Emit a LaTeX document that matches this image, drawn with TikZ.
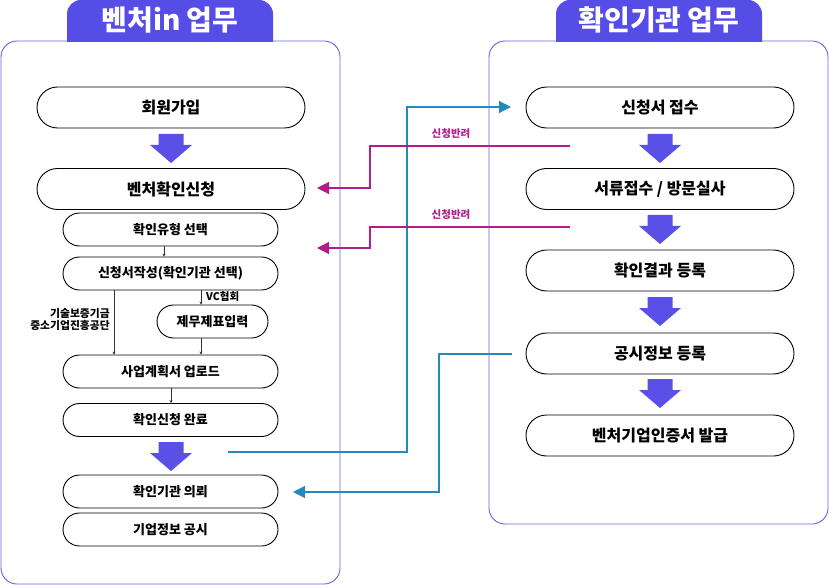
\documentclass[tikz,border=0pt]{standalone}
\usepackage{fontspec}
\setmainfont{Noto Sans CJK KR}
\usetikzlibrary{arrows.meta}
\definecolor{hdr}{HTML}{564CE6}
\definecolor{pborder}{HTML}{6A60EE}
\definecolor{bigarr}{HTML}{5A50E8}
\definecolor{rej}{HTML}{B01E8E}
\definecolor{flow}{HTML}{2389C0}
\tikzset{
  bigbox/.style={draw=black, line width=0.9pt, rounded corners=20.5pt, minimum width=268pt, minimum height=41pt, inner sep=0pt, font=\fontsize{16}{18}\selectfont\bfseries},
  smallbox/.style={draw=black, line width=0.9pt, rounded corners=16.5pt, minimum width=215pt, minimum height=33pt, inner sep=0pt, font=\fontsize{13}{15}\selectfont\bfseries},
  panel/.style={draw=pborder, line width=0.9pt, rounded corners=16pt},
  tab/.style={fill=hdr},
  hdrtext/.style={text=white, font=\fontsize{28}{30}\selectfont\bfseries},
  bigarrow/.style={fill=bigarr},
  thin/.style={-{Stealth[length=3pt,width=3pt]}, line width=0.5pt, draw=black!80},
  rejline/.style={draw=rej, line width=1.2pt, -{Triangle[length=12pt,width=12pt]}},
  flowline/.style={draw=flow, line width=1.2pt, -{Triangle[length=12pt,width=12pt]}},
  lbl/.style={font=\fontsize{10.5}{12}\selectfont\bfseries, inner sep=0pt},
}
\newcommand{\bigdown}[2]{\fill[bigarr] (#1-12.5,#2) -- (#1+12.5,#2) -- (#1+12.5,#2+11) -- (#1+21,#2+11) -- (#1,#2+29) -- (#1-21,#2+11) -- (#1-12.5,#2+11) -- cycle;}
\begin{document}
\begin{tikzpicture}[x=1pt,y=-1pt]
\useasboundingbox (0,0) rectangle (829,585);
% panels
\draw[panel] (1,41) rectangle (340,584);
\draw[panel] (489,41) rectangle (828,524);
% tabs
\fill[tab] (67,42) [rounded corners=14pt] -- (67,0) -- (273,0) [sharp corners] -- (273,42) -- cycle;
\fill[tab] (556,42) [rounded corners=14pt] -- (556,0) -- (762,0) [sharp corners] -- (762,42) -- cycle;
\node[hdrtext] (h1) at (170,20) {벤처in 업무};
\node[hdrtext] (h2) at (659,20) {확인기관 업무};
% left boxes
\node[bigbox] (b1) at (171,107.5) {회원가입};
\node[bigbox] (b2) at (171,189) {벤처확인신청};
\node[smallbox] (s1) at (170.5,229.5) {확인유형 선택};
\node[smallbox] (s2) at (170.5,273.5) {신청서작성(확인기관 선택)};
\node[smallbox, minimum width=111pt] (s3) at (212.5,321.5) {제무제표입력};
\node[smallbox] (s4) at (170.5,371.5) {사업계획서 업로드};
\node[smallbox] (s5) at (170.5,420) {확인신청 완료};
\node[smallbox] (s6) at (170.5,491.5) {확인기관 의뢰};
\node[smallbox] (s7) at (170.5,529.5) {기업정보 공시};
% right boxes
\node[bigbox] (r1) at (660,107.5) {신청서 접수};
\node[bigbox] (r2) at (660,189) {서류접수 / 방문실사};
\node[bigbox] (r3) at (660,270.5) {확인결과 등록};
\node[bigbox] (r4) at (660,353.5) {공시정보 등록};
\node[bigbox] (r5) at (660,435.5) {벤처기업인증서 발급};
% big arrows
\bigdown{171}{134}
\bigdown{171}{442}
\bigdown{660}{134}
\bigdown{660}{215}
\bigdown{660}{297}
\bigdown{660}{379}
% small arrows
\draw[thin] (s1.south -| 164,0) -- (s2.north -| 164,0);
\draw[thin] (s2.south -| 114,0) -- (s4.north -| 114,0);
\draw[thin] (s2.south -| 201,0) -- (s3.north -| 201,0);
\draw[thin] (s3.south -| 201,0) -- (s4.north -| 201,0);
\draw[thin] (s4.south -| 171,0) -- (s5.north -| 171,0);
\node[lbl, anchor=west] (vc) at (206,297) {VC협회};
\node[lbl, anchor=east, align=right, font=\fontsize{10.8}{12}\selectfont\bfseries] (kibo) at (110,319.5) {기술보증기금\\[-0.5pt]중소기업진흥공단};
% connectors
\coordinate (f1s) at (228,452);
\coordinate (f1e) at (511,107);
\draw[flowline] (f1s) -- (407,452) -- (407,107) -- (f1e);
\coordinate (m1s) at (570,146);
\coordinate (m1e) at (317,188);
\draw[rejline] (m1s) -- (370,146) -- (370,188) -- (m1e);
\coordinate (m2s) at (570,227);
\coordinate (m2e) at (317,248);
\draw[rejline] (m2s) -- (370,227) -- (370,248) -- (m2e);
\node[lbl, text=rej] (rl1) at (451,134) {신청반려};
\node[lbl, text=rej] (rl2) at (451,215) {신청반려};
\coordinate (f2s) at (512,354);
\coordinate (f2e) at (293,492);
\draw[flowline] (f2s) -- (439,354) -- (439,492) -- (f2e);
\end{tikzpicture}
\end{document}
